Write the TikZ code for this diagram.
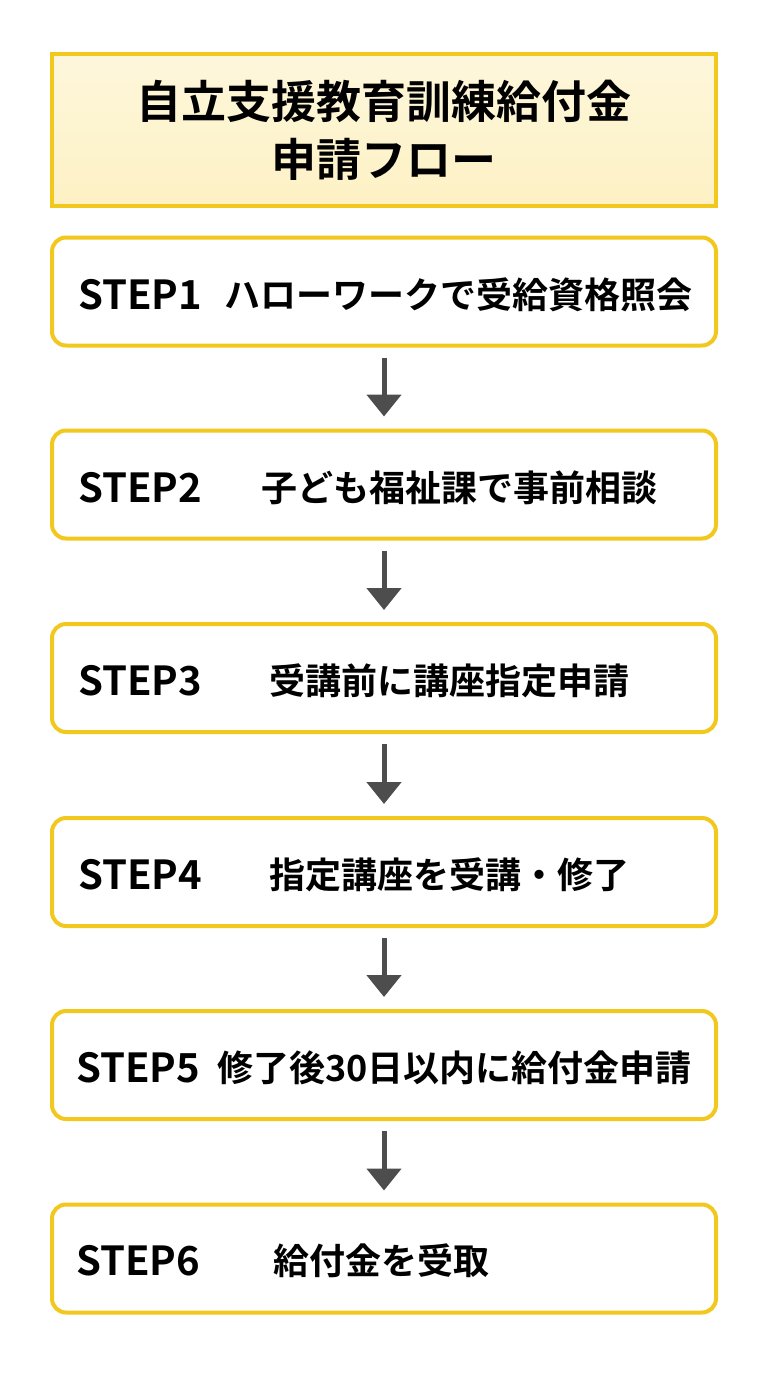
\documentclass[tikz,border=0pt]{standalone}
\usepackage{fontspec}
\setmainfont{Noto Sans CJK JP}[BoldFont={Noto Sans CJK JP Bold}]
\usetikzlibrary{arrows.meta}
\definecolor{stepgold}{HTML}{F2C81E}
\definecolor{titlefill}{HTML}{FDF1C4}
\definecolor{arrowgray}{HTML}{4D4D4D}
\tikzset{
  stepbox/.style={draw=stepgold, line width=4pt, rounded corners=14pt, fill=white,
    minimum width=664pt, minimum height=108pt, inner sep=0pt},
  steplabel/.style={anchor=west, inner sep=0pt, font=\fontsize{40}{44}\selectfont\bfseries},
  stepdesc/.style={anchor=west, inner sep=0pt, font=\fontsize{36}{40}\selectfont\bfseries},
  flowarrow/.style={draw=arrowgray, line width=5pt, -{Triangle[length=22pt,width=34pt]},
    shorten <=10pt, shorten >=12pt}
}
\begin{document}
\begin{tikzpicture}[x=1pt,y=-1pt]
  \useasboundingbox (0,0) rectangle (768,1376);
  % title
  \node[draw=stepgold, line width=4pt, top color=titlefill!60, bottom color=titlefill,
    minimum width=664pt, minimum height=152pt, align=center,
    font=\fontsize{45}{58}\selectfont\bfseries] (title) at (384,130)
    {自立支援教育訓練給付金\\申請フロー};
  % steps
  \node[stepbox] (s1) at (384,291.5) {};
  \node[stepbox] (s2) at (384,484.5) {};
  \node[stepbox] (s3) at (384,678) {};
  \node[stepbox] (s4) at (384,872) {};
  \node[stepbox] (s5) at (384,1065) {};
  \node[stepbox] (s6) at (384,1258.5) {};
  \node[steplabel] (l1) at (78,295) {STEP1};
  \node[stepdesc] (d1) at (224,295) {ハローワークで受給資格照会};
  \node[steplabel] (l2) at (78,488) {STEP2};
  \node[stepdesc] (d2) at (261,488) {子ども福祉課で事前相談};
  \node[steplabel] (l3) at (78,681) {STEP3};
  \node[stepdesc] (d3) at (269,681) {受講前に講座指定申請};
  \node[steplabel] (l4) at (78,875) {STEP4};
  \node[stepdesc] (d4) at (269,875) {指定講座を受講・修了};
  \node[steplabel] (l5) at (76,1068) {STEP5};
  \node[stepdesc] (d5) at (217,1068) {修了後30日以内に給付金申請};
  \node[steplabel] (l6) at (76,1261) {STEP6};
  \node[stepdesc] (d6) at (273,1261) {給付金を受取};
  % arrows
  \foreach \a/\b in {s1/s2,s2/s3,s3/s4,s4/s5,s5/s6}
    \draw[flowarrow] (\a) -- (\b);
\end{tikzpicture}
\end{document}
